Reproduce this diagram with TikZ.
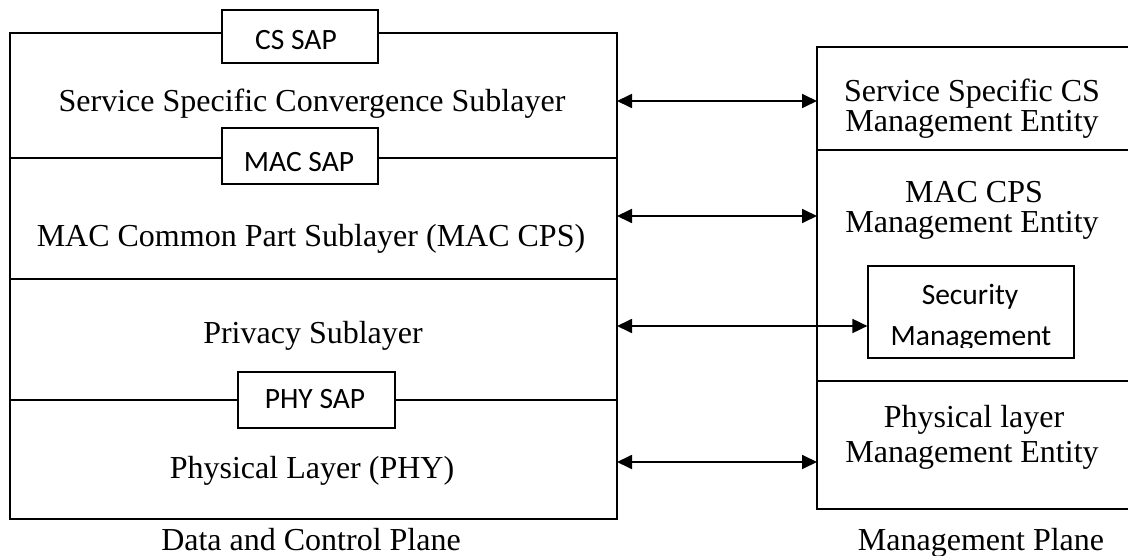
\documentclass[tikz,border=0pt]{standalone}
\usepackage{fontspec}
\setmainfont{Liberation Serif}
\newfontfamily\sapfont{Carlito}
\usetikzlibrary{arrows.meta}

\begin{document}
\begin{tikzpicture}[x=1pt,y=-1pt,
  frame/.style={draw, line width=1.8pt, inner sep=0pt, outer sep=0pt},
  layerbox/.style={frame, minimum width=607pt},
  mgmtbox/.style={frame, minimum width=323pt},
  sapbox/.style={draw, fill=white, line width=1.2pt, inner sep=0pt, minimum height=55pt},
  serif/.style={anchor=base, inner sep=0pt, font=\fontsize{32}{36}\selectfont},
  sans/.style={anchor=base, inner sep=0pt, font=\sapfont\fontsize{29.5}{33}\selectfont},
  link/.style={line width=1.8pt, {Triangle[length=15pt,width=14pt]}-{Triangle[length=15pt,width=14pt]}}
]
\useasboundingbox (0,0) rectangle (1128,556);
\clip (0,0) rectangle (1128,556);

% data and control plane: stacked sublayers
\node[layerbox, minimum height=125pt] (sscs) at (313.5,95.5) {};
\node[layerbox, minimum height=121pt] (mac) at (313.5,218.5) {};
\node[layerbox, minimum height=121pt] (priv) at (313.5,339.5) {};
\node[layerbox, minimum height=119pt] (phy) at (313.5,459.5) {};

\node[serif] (tsscs) at (312,112) {Service Specific Convergence Sublayer};
\node[serif] (tmac) at (311,247) {MAC Common Part Sublayer (MAC CPS)};
\node[serif] (tpriv) at (313,343) {Privacy Sublayer};
\node[serif] (tphy) at (312,478) {Physical Layer (PHY)};

% service access points on the layer boundaries
\node[sapbox, minimum width=156pt, minimum height=53pt] (cssap) at (300,36.5) {};
\node[sapbox, minimum width=156pt, minimum height=56pt] (macsap) at (300,156) {};
\node[sapbox, minimum width=157pt, minimum height=56pt] (physap) at (316.5,400) {};
\node[sans] (tcssap) at (296,50) {CS SAP};
\node[sans] (tmacsap) at (299,172) {MAC SAP};
\node[sans] (tphysap) at (315,408) {PHY SAP};

% management plane
\node[mgmtbox, minimum height=103pt] (csme) at (978.5,98.5) {};
\node[mgmtbox, minimum height=231pt] (cpsme) at (978.5,265.5) {};
\node[mgmtbox, minimum height=128pt] (phyme) at (978.5,445) {};

\node[serif] (tcsme1) at (972,102) {Service Specific CS};
\node[serif] (tcsme2) at (972,132) {Management Entity};
\node[serif] (tcps1) at (974,203) {MAC CPS};
\node[serif] (tcps2) at (972,233) {Management Entity};
\node[serif] (tphyme1) at (974,427) {Physical layer};
\node[serif] (tphyme2) at (972,462) {Management Entity};

\node[draw, line width=1.2pt, inner sep=0pt, minimum width=206pt, minimum height=92pt] (sec) at (971,312) {};
\begin{scope}
  \clip (868,266) rectangle (1074,347);
  \node[sans] (tsec1) at (970,305) {Security};
  \node[sans] (tsec2) at (971,345) {Management};
\end{scope}

% plane captions
\node[serif] (dcp) at (311,550) {Data and Control Plane};
\node[serif] (mp) at (981,550) {Management Plane};

% layer-to-management links
\coordinate (y1) at (0,101);
\coordinate (y2) at (0,216);
\coordinate (y3) at (0,326);
\coordinate (y4) at (0,462);
\draw[link] (sscs.east |- y1) -- (csme.west |- y1);
\draw[link] (mac.east |- y2) -- (cpsme.west |- y2);
\draw[link] (priv.east |- y3) -- (sec.west |- y3);
\draw[link] (phy.east |- y4) -- (phyme.west |- y4);
\end{tikzpicture}
\end{document}
